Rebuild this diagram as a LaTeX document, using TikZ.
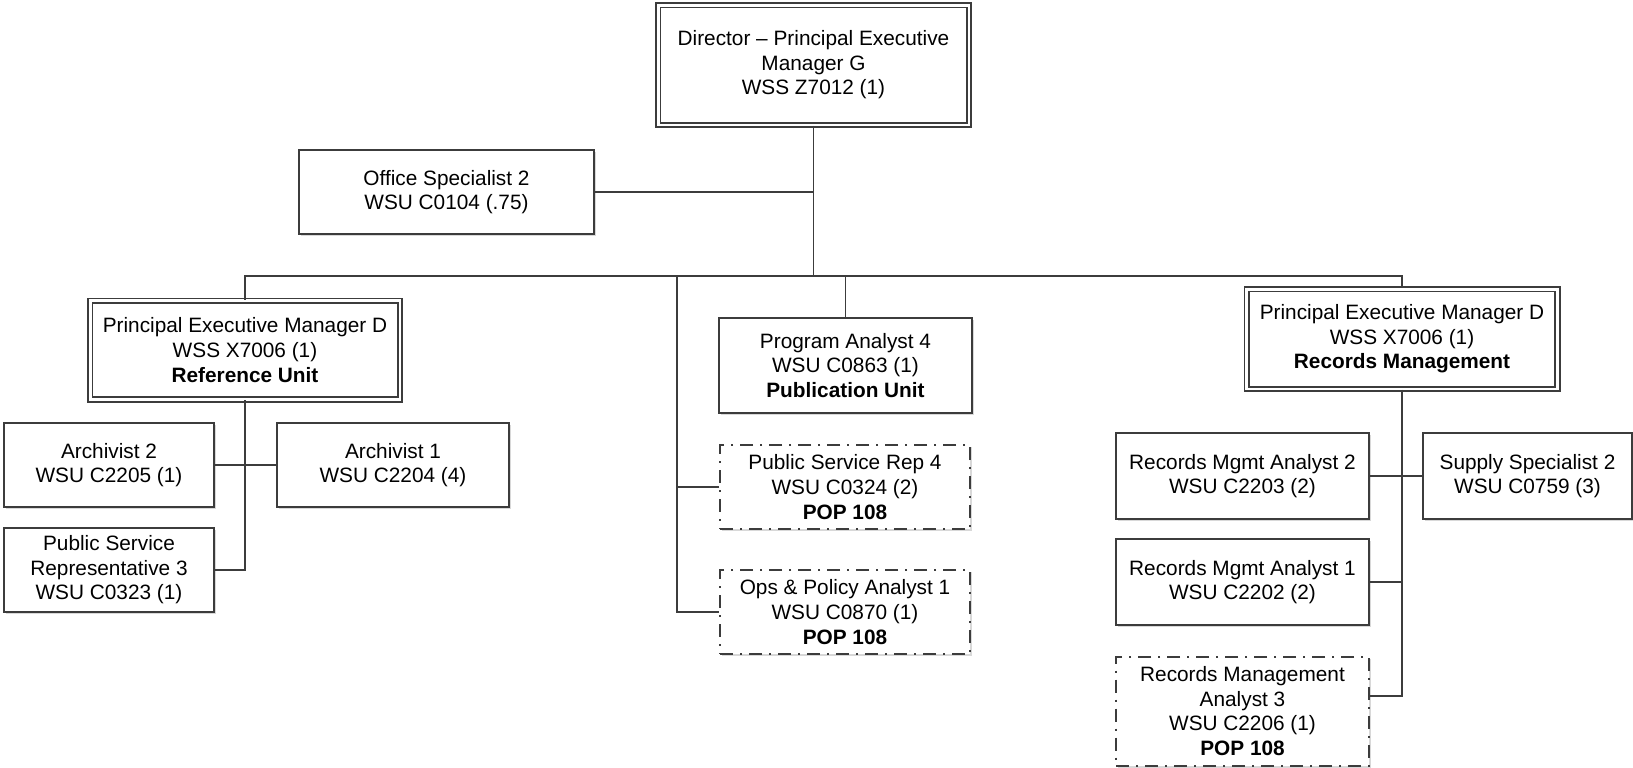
\documentclass[tikz,border=0pt]{standalone}
\usepackage{fontspec}
\setmainfont{Liberation Sans}
\usepackage{xcolor}
\usetikzlibrary{shadows}

\definecolor{linegray}{HTML}{3C3C3C}

\tikzset{
    post/.style={draw=linegray, line width=1pt, fill=white, align=center, inner sep=2pt,
        font=\fontsize{10.4}{12.3}\selectfont,
        drop shadow={shadow xshift=1.2pt, shadow yshift=-1.2pt, fill=black!30, opacity=0.5}},
    headpost/.style={post, double=white, line width=0.95pt, double distance=1.3pt},
    newpost/.style={post, dash pattern=on 6.5pt off 3.5pt on 1pt off 3.5pt},
    link/.style={draw=linegray, line width=0.65pt}
}

\begin{document}
\begin{tikzpicture}[x=0.5pt, y=-0.5pt]
                \useasboundingbox (0,0) rectangle (1633,767);
                \node[headpost, minimum width=155.3pt, minimum height=59.8pt] (dir) at (813.5,65) {Director – Principal Executive\\Manager G\\WSS Z7012 (1)};
                \node[post, minimum width=147.5pt, minimum height=42pt] (office) at (446.5,192) {Office Specialist 2\\WSU C0104 (.75)};
                \node[headpost, minimum width=154.8pt, minimum height=49.3pt] (pemref) at (245,350) {Principal Executive Manager D\\WSS X7006 (1)\\\textbf{Reference Unit}};
                \node[post, minimum width=126.5pt, minimum height=47.5pt] (prog) at (845.5,365.5) {Program Analyst 4\\WSU C0863 (1)\\\textbf{Publication Unit}};
                \node[newpost, minimum width=125pt, minimum height=42pt] (psr4) at (845,487) {Public Service Rep 4\\WSU C0324 (2)\\\textbf{POP 108}};
                \node[newpost, minimum width=125pt, minimum height=42pt] (ops) at (845,612) {Ops \& Policy Analyst 1\\WSU C0870 (1)\\\textbf{POP 108}};
                \node[headpost, minimum width=155.3pt, minimum height=49.8pt] (pemrec) at (1402,339) {Principal Executive Manager D\\WSS X7006 (1)\\\textbf{Records Management}};
                \node[post, minimum width=126.5pt, minimum height=43pt] (rma2) at (1242.5,476) {Records Mgmt Analyst 2\\WSU C2203 (2)};
                \node[post, minimum width=104.5pt, minimum height=43pt] (supply) at (1527.5,476) {Supply Specialist 2\\WSU C0759 (3)};
                \node[post, minimum width=126.5pt, minimum height=43pt] (rma1) at (1242.5,582) {Records Mgmt Analyst 1\\WSU C2202 (2)};
                \node[newpost, minimum width=126.5pt, minimum height=54.5pt] (rma3) at (1242.5,711) {Records Management\\Analyst 3\\WSU C2206 (1)\\\textbf{POP 108}};
                \node[post, minimum width=105pt, minimum height=42pt] (arch2) at (109,465) {Archivist 2\\WSU C2205 (1)};
                \node[post, minimum width=116pt, minimum height=42pt] (arch1) at (393,465) {Archivist 1\\WSU C2204 (4)};
                \node[post, minimum width=105pt, minimum height=42pt] (psr3) at (109,570) {Public Service\\Representative 3\\WSU C0323 (1)};
                \coordinate (pubdrop) at (677,276);
                \draw[link] (pemref.north) |- (pubdrop) -| (pemrec.north);
                \draw[link] (dir.south) -- (dir.south |- pubdrop);
                \draw[link] (office.east) -- (office.east -| dir.south);
                \draw[link] (prog.north) -- (prog.north |- pubdrop);
                \draw[link] (pubdrop) |- (ops.west);
                \draw[link] (psr4.west) -- (psr4.west -| pubdrop);
                \draw[link] (pemref.south) |- (psr3.east);
                \draw[link] (arch2.east) -- (arch1.west);
                \draw[link] (pemrec.south) |- ([yshift=7.5pt]rma3.east);
                \draw[link] (rma2.east) -- (supply.west);
                \draw[link] (rma1.east) -- (rma1.east -| pemrec.south);
            \end{tikzpicture}
\end{document}
